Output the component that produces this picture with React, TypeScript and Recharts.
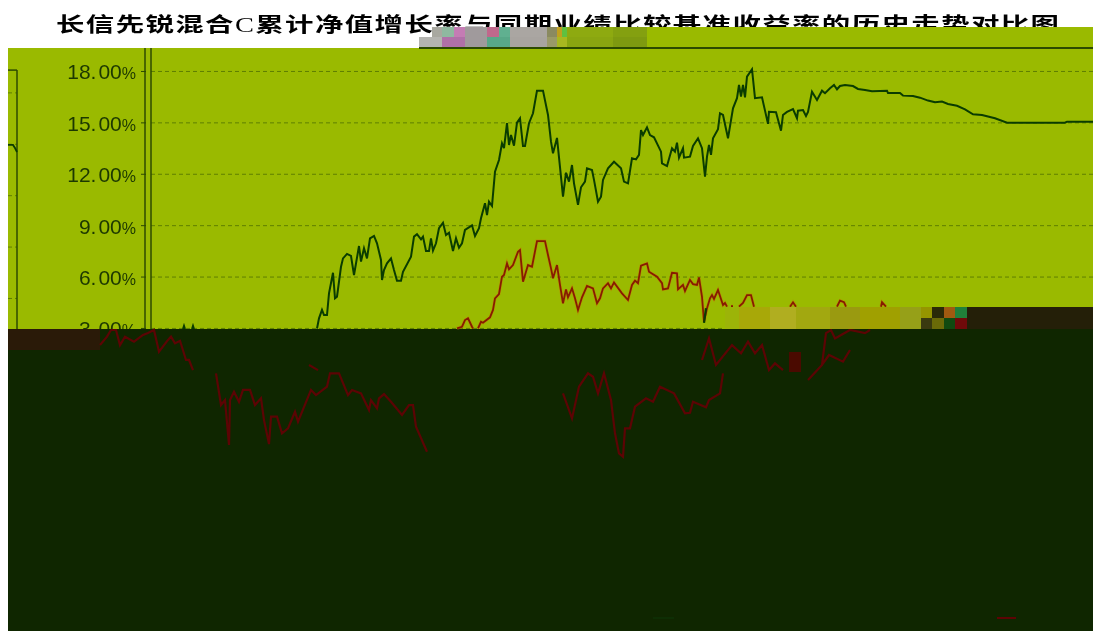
import { LineChart, Line, XAxis, YAxis, ReferenceLine } from 'recharts'

const TITLE_HEAD = '长信先锐混合'
const TITLE_TAIL = '累计净值增长率与同期业绩比较基准收益率的历史走势对比图'

const yTicks = [18, 15, 12, 9, 6, 3]
const sliverGrid = [16.75, 13.75, 10.75, 7.75, 4.75]

const fundDays = [
  32, 33, 34, 35, 41, 42, 43, 44,
  166, 168, 171, 173, 176, 178, 182, 184, 186, 190, 192, 196, 200, 203, 208, 210, 213, 216, 219, 223, 226, 230, 231, 233, 236, 240, 243, 246, 250, 252, 260, 263, 266, 270, 272, 275, 278, 280, 282, 285, 288, 292, 295, 298, 302, 305, 308, 311, 314, 321, 324, 328, 330, 334, 336, 338, 341, 344, 348, 351, 353, 356, 358, 360, 363, 366, 369, 372, 374, 378, 382, 386, 392, 397, 400, 402, 406, 409, 412, 415, 418, 421, 423, 427, 430, 434, 436, 441, 443, 447, 450, 452, 457, 463, 470, 473, 477, 481, 485, 488, 490, 492, 496, 499, 503, 510, 511, 516, 521, 524, 526, 528, 532, 533, 539, 542, 547, 551, 554, 556, 558, 560, 562, 567, 569, 572, 577, 582, 586, 588, 590, 592, 594, 596, 601, 604, 611, 617, 618, 625, 630, 632, 636, 642, 646, 647, 652, 655, 657, 661, 666, 671, 674, 679, 683, 686, 689, 694, 702, 707, 714, 721, 736, 737, 749, 752, 762, 769, 777, 784, 791, 797, 806, 814, 822, 831, 844, 856, 914, 916, 942,
]
const fundValues = [
  2.97, 3.15, 2.97, null, 2.97, 3.15, 2.97, null,
  3.0, 3.59, 4.08, 3.78, 3.78, 5.05, 6.25, 4.76, 4.85, 6.6, 7.09, 7.35, 7.23, 6.12, 7.81, 6.9, 7.68, 7.09, 8.26, 8.4, 7.97, 7.0, 5.83, 6.41, 6.8, 7.09, 6.41, 5.79, 5.79, 6.31, 7.19, 8.36, 8.5, 8.2, 8.36, 7.52, 7.52, 8.26, 7.54, 7.97, 8.85, 9.17, 8.45, 8.59, 7.52, 8.26, 7.71, 7.97, 8.75, 9.02, 8.4, 8.85, 9.43, 10.31, 9.62, 10.4, 10.15, 12.15, 12.83, 13.81, 13.52, 14.98, 13.71, 14.29, 13.67, 15.01, 15.27, 13.65, 13.65, 14.98, 15.56, 16.88, 16.88, 15.46, 13.9, 13.22, 14.12, 12.42, 10.69, 12.09, 11.57, 12.54, 11.47, 10.21, 11.24, 11.57, 12.35, 12.25, 11.67, 10.4, 10.69, 11.67, 12.35, 12.73, 12.35, 11.57, 11.47, 12.93, 12.87, 13.13, 14.58, 14.29, 14.74, 14.29, 14.16, 13.32, 12.64, 12.48, 13.52, 13.32, 13.84, 12.97, 13.52, 12.97, 13.03, 13.65, 14.1, 13.52, 11.86, 13.03, 13.71, 13.13, 14.1, 14.63, 15.56, 15.46, 14.1, 15.85, 16.44, 17.21, 16.53, 17.21, 16.49, 17.7, 18.13, 16.44, 16.49, 14.94, 15.65, 15.62, 14.54, 15.46, 15.64, 15.81, 15.27, 15.71, 15.75, 15.4, 15.64, 16.82, 16.34, 16.88, 16.73, 17.02, 17.21, 16.96, 17.15, 17.21, 17.15, 16.98, 16.92, 16.84, 16.88, 16.74, 16.74, 16.59, 16.57, 16.47, 16.3, 16.2, 16.24, 16.1, 16.0, 15.79, 15.5, 15.46, 15.27, 15.01, 15.01, 15.07, 15.07,
]

const benchDays = [
  306, 311, 314, 317, 321, 322, 324, 327, 330, 332, 339, 342, 344, 348, 351, 353, 356, 358, 362, 367, 369, 372, 377, 381, 386, 394, 397, 400, 402, 406, 409, 412, 415, 417, 421, 424, 427, 431, 436, 442, 446, 449, 452, 457, 460, 463, 471, 477, 481, 484, 487, 490, 496, 498, 506, 511, 512, 517, 521, 526, 527, 532, 534, 539, 542, 546, 548, 551, 553, 556, 559, 561, 563, 567, 572, 574, 576, 578,
  580, 582, 584,
  588, 592, 596, 600, 603, 605,
  639, 642, 645, 647,
  686, 689, 693, 695, 697,
  730, 731, 735,
]
const benchValues = [
  3.0, 3.1, 3.49, 3.59, 3.1, 3.0, null, 3.0, 3.39, 3.33, 3.65, 4.08, 4.76, 5.01, 6.02, 6.12, 6.8, 6.45, 6.7, 7.48, 7.58, 5.73, 6.7, 6.6, 8.1, 8.1, 7.29, 6.51, 5.93, 6.7, 5.54, 4.47, 5.28, 4.82, 5.34, 4.76, 4.08, 4.82, 5.48, 5.34, 4.47, 4.76, 5.34, 5.64, 5.34, 5.69, 5.05, 4.66, 5.54, 5.79, 5.64, 6.66, 6.8, 6.31, 6.02, 5.64, 5.28, 5.34, 6.25, 6.22, 5.28, 5.54, 5.19, 5.83, 5.59, 5.54, 5.98, 4.85, 3.39, 4.18, 4.76, 4.95, 4.72, 5.24, 4.37, 4.49, 4.27, null,
  4.3, 4.3, null,
  4.27, 4.49, 4.95, 4.95, 4.27, null,
  4.27, 4.53, 4.27, null,
  4.27, 4.62, 4.53, 4.27, null,
  4.27, 4.53, 4.27,
]

// the part of the benchmark that runs through the dark lower block
const benchLowDays = [
  -51, -44, -40, -35, -31, -26, -17, -8, -3, 3, 8, 17, 20, 24, 29, 35, 38, 42, 44,
  65, 70, 74, 78, 79, 83, 88, 92, 99, 104, 110, 113, 118, 120, 126, 131, 137, 144, 147, 160, 165, 176, 179, 188, 197, 201, 210, 218, 220, 226, 228, 233, 240, 251, 258, 262, 265, 276, 278,
  158, 167, 169,
  412, 421, 428, 437, 442, 447, 453, 460, 464, 468, 472, 474, 479, 484, 495, 502, 509, 523, 534, 539, 542, 555, 558, 569, 572, 574,
  551, 558, 565, 581, 590, 597, 604, 611, 618, 624, 632, 634,
  657, 671, 675, 680, 684, 699, 714, 719, 721,
  671, 678, 692, 699,
]
const benchLowValues = [
  2.03, 2.52, 2.91, 2.91, 2.03, 2.52, 2.23, 2.62, 2.73, 2.91, 1.64, 2.33, 2.52, 2.13, 2.28, 1.16, 1.16, 0.57, null,
  0.38, -1.47, -1.18, -3.8, -1.18, -0.69, -1.28, -0.59, -0.59, -1.47, -1.08, -2.35, -3.75, -2.15, -2.15, -3.12, -2.83, -1.86, -2.44, -0.59, -0.89, -0.4, 0.38, 0.38, -0.89, -0.59, -0.79, -1.76, -1.18, -1.66, -1.08, -0.83, -1.28, -2.05, -1.47, -1.47, -2.74, -4.2, null,
  0.87, 0.57, null,
  -0.79, -2.25, -0.4, 0.38, 0.18, -0.79, 0.38, -1.18, -3.12, -4.29, -4.49, -2.83, -2.83, -1.57, -1.08, -1.28, -0.4, -0.79, -1.95, -1.92, -1.28, -1.6, -1.18, -0.79, 0.38, null,
  1.16, 2.42, 0.87, 2.03, 1.55, 2.23, 1.55, 2.03, 0.57, 0.96, 0.57, null,
  -0.01, 0.87, 2.73, 2.91, 2.42, 2.91, 2.73, 2.91, null,
  0.87, 1.45, 1.06, 1.74,
]

const sliverDays = [-143, -138, -136, -134]
const sliverValues = [13.71, 13.71, 13.53, 13.3]
const tipDays = [555, 553]
const tipValues = [4.18, 3.33]

const DAY_MIN = -143
const DAY_MAX = 942
const VALUE_MIN = -14.66
const VALUE_MAX = 19.37
const FLOOR = 2.97

const LIME = '#9aba00'
const DARK = '#0f2600'
const FUND = '#0a3c00'
const BENCH = '#861c00'
const BENCH_GLOW = '#c87800'
const BENCH_LOW = '#5c0404'
const GRID = '#5f7f00'
const AXIS = '#2c4a00'

const toRows = (days: number[], values: (number | null)[]) =>
  days.map((day, i) => ({ day, value: values[i] }))

// damaged strips of the picture, left to right
const damage: [number, number, number, number, string][] = [
  [432, 27, 10, 10, '#a8a8a0'],
  [442, 27, 12, 10, '#8fb8a0'],
  [454, 27, 11, 10, '#c47cb4'],
  [465, 27, 22, 10, '#a09a9c'],
  [487, 27, 12, 10, '#c0688c'],
  [499, 27, 11, 10, '#60b090'],
  [510, 27, 37, 10, '#aaa6a2'],
  [547, 27, 10, 10, '#8a8a60'],
  [557, 27, 5, 10, '#c0a020'],
  [562, 27, 5, 10, '#60c040'],
  [567, 27, 46, 10, '#8eaa10'],
  [613, 27, 34, 10, '#84a010'],
  [647, 27, 446, 21, LIME],
  [419, 37, 23, 10, '#b4b4b0'],
  [442, 37, 23, 10, '#b070a8'],
  [465, 37, 22, 10, '#a09a9c'],
  [487, 37, 23, 10, '#58a888'],
  [510, 37, 37, 10, '#a8a4a0'],
  [547, 37, 10, 10, '#9a9a68'],
  [557, 37, 10, 10, '#a8b820'],
  [567, 37, 46, 10, '#8aa610'],
  [613, 37, 34, 10, '#7e9a10'],
  [419, 47, 674, 2, AXIS],
  [725, 307, 14, 22, '#9cb408'],
  [739, 307, 31, 22, '#a8a808'],
  [770, 307, 26, 22, '#b0ae20'],
  [796, 307, 34, 22, '#a2a810'],
  [830, 307, 30, 22, '#9a9a10'],
  [860, 307, 40, 22, '#a0a000'],
  [900, 307, 21, 22, '#96a018'],
  [921, 307, 11, 11, '#959500'],
  [921, 318, 11, 11, '#3a3a10'],
  [932, 307, 12, 11, '#2a2a08'],
  [932, 318, 12, 11, '#6a6a08'],
  [944, 307, 11, 11, '#a05a10'],
  [955, 307, 12, 11, '#20803a'],
  [944, 318, 11, 11, '#104a10'],
  [955, 318, 12, 11, '#700a0a'],
  [967, 307, 126, 22, '#241f08'],
  [789, 352, 12, 20, '#4a0a00'],
]

function TickLabel({ y, payload }: { y?: number; payload?: { value: number } }) {
  const id = `above-${payload?.value}`
  const [whole, cents] = (payload?.value ?? 0).toFixed(2).split('.')
  return (
    <g>
      <clipPath id={id}>
        <rect x={0} y={40} width={160} height={289} />
      </clipPath>
      <g clipPath={`url(#${id})`}>
        <line x1={141} x2={146} y1={y} y2={y} stroke={AXIS} />
        <text x={136} y={(y ?? 0) + 8} textAnchor="end" fill="#1c3800" fontFamily="Liberation Sans" fontSize={21}>
          {whole}.
          <tspan dx={2}>{cents}</tspan>
          <tspan fontSize={16}>%</tspan>
        </text>
      </g>
    </g>
  )
}

export default function App() {
  return (
    <div style={{ position: 'absolute', left: 0, top: 0, width: 1093, height: 631, overflow: 'hidden', background: '#fff' }}>
      <div
        style={{
          position: 'absolute',
          left: 56,
          top: 9,
          whiteSpace: 'nowrap',
          fontFamily: '"Noto Sans CJK SC"',
          fontWeight: 700,
          fontSize: 20,
          lineHeight: '30px',
          letterSpacing: 1,
          color: '#000',
          transform: 'scaleX(1.42)',
          transformOrigin: 'left center',
          filter: 'blur(0.4px)',
        }}
      >
        {TITLE_HEAD}
        <span style={{ fontFamily: '"Liberation Serif"', fontWeight: 400 }}>C</span>
        {TITLE_TAIL}
      </div>
      <div style={{ position: 'absolute', left: 8, top: 48, width: 1085, height: 281, background: LIME }} />
      <div style={{ position: 'absolute', left: 8, top: 329, width: 1085, height: 302, background: DARK }} />
      <div style={{ position: 'absolute', left: 8, top: 329, width: 92, height: 21, background: '#2a1a08' }} />
      <div style={{ position: 'absolute', left: 0, top: 0, filter: 'blur(0.45px)' }}>
        <LineChart width={1093} height={631} margin={{ top: 48, right: 0, bottom: 0, left: 7 }}>
          <XAxis type="number" dataKey="day" domain={[DAY_MIN, DAY_MAX]} allowDataOverflow hide />
          <YAxis
            type="number"
            domain={[VALUE_MIN, VALUE_MAX]}
            ticks={yTicks}
            interval={0}
            allowDataOverflow
            width={1}
            axisLine={false}
            tickLine={false}
            tick={TickLabel}
          />
          {yTicks.map((v) => (
            <ReferenceLine
              key={v}
              segment={[{ x: 0, y: v }, { x: DAY_MAX, y: v }]}
              stroke={GRID}
              strokeDasharray="4 3"
            />
          ))}
          {sliverGrid.map((v) => (
            <ReferenceLine
              key={v}
              segment={[{ x: DAY_MIN, y: v }, { x: -134, y: v }]}
              stroke={GRID}
              strokeDasharray="4 3"
            />
          ))}
          <ReferenceLine segment={[{ x: DAY_MIN, y: 18.08 }, { x: -134, y: 18.08 }]} stroke={AXIS} strokeWidth={1.5} />
          <ReferenceLine segment={[{ x: -134, y: 18.08 }, { x: -134, y: FLOOR }]} stroke={AXIS} strokeWidth={1.5} />
          <ReferenceLine segment={[{ x: -6, y: VALUE_MAX }, { x: -6, y: FLOOR }]} stroke={AXIS} strokeWidth={1.5} />
          <ReferenceLine segment={[{ x: 0, y: VALUE_MAX }, { x: 0, y: FLOOR }]} stroke={AXIS} strokeWidth={1.5} />
          <ReferenceLine segment={[{ x: 502, y: -13.9 }, { x: 523, y: -13.9 }]} stroke="#0f3206" strokeWidth={1.5} />
          <ReferenceLine segment={[{ x: 846, y: -13.9 }, { x: 865, y: -13.9 }]} stroke={BENCH_LOW} strokeWidth={2} />
          <Line data={toRows(sliverDays, sliverValues)} dataKey="value" stroke={FUND} strokeWidth={1.8} dot={false} isAnimationActive={false} />
          <Line data={toRows(benchLowDays, benchLowValues)} dataKey="value" stroke={BENCH_LOW} strokeWidth={2.2} dot={false} isAnimationActive={false} />
          <Line data={toRows(benchDays, benchValues)} dataKey="value" stroke={BENCH_GLOW} strokeWidth={3} strokeOpacity={0.55} dot={false} isAnimationActive={false} />
          <Line data={toRows(benchDays, benchValues)} dataKey="value" stroke={BENCH} strokeWidth={1.8} dot={false} isAnimationActive={false} />
          <Line data={toRows(fundDays, fundValues)} dataKey="value" stroke={FUND} strokeWidth={2} dot={false} isAnimationActive={false} />
          <Line data={toRows(tipDays, tipValues)} dataKey="value" stroke={FUND} strokeWidth={2.2} dot={false} isAnimationActive={false} />
        </LineChart>
      </div>
      {damage.map(([left, top, width, height, background]) => (
        <div key={`${left}-${top}`} style={{ position: 'absolute', left, top, width, height, background }} />
      ))}
    </div>
  )
}
